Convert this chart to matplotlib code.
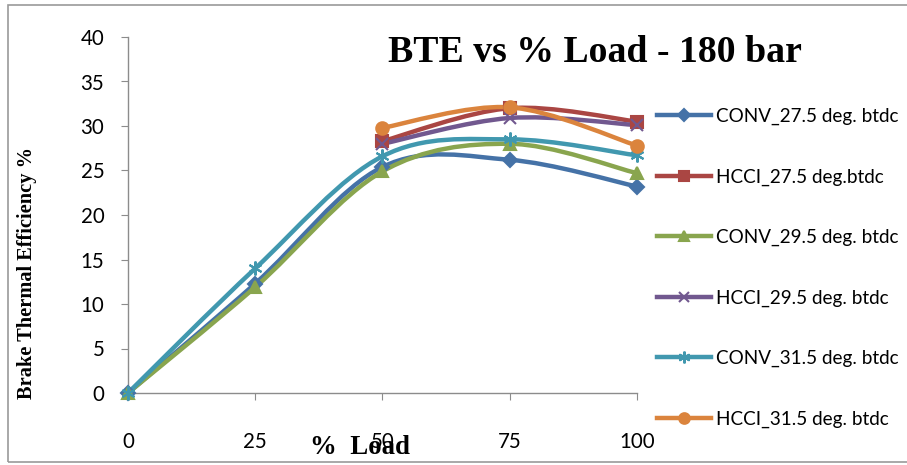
"""BTE vs % Load at 180 bar: CONV and HCCI runs at three injection timings."""
import numpy as np
import matplotlib.pyplot as plt
from matplotlib.patches import Rectangle
from matplotlib.path import Path
from matplotlib.patches import PathPatch

LOADS = ["0", "25", "50", "75", "100"]
NAN = np.nan

CONV_275 = [0.0, 12.3, 25.4, 26.2, 23.2]
HCCI_275 = [NAN, NAN, 28.3, 32.0, 30.5]
CONV_295 = [0.0, 11.9, 24.9, 28.0, 24.7]
HCCI_295 = [NAN, NAN, 28.0, 30.9, 30.1]
CONV_315 = [0.0, 14.0, 26.6, 28.5, 26.7]
HCCI_315 = [NAN, NAN, 29.8, 32.1, 27.8]

SERIES = [
    ("CONV_27.5 deg. btdc", CONV_275, "#4572A7", "D", 7),
    ("HCCI_27.5 deg.btdc", HCCI_275, "#AA4643", "s", 8),
    ("CONV_29.5 deg. btdc", CONV_295, "#89A54E", "^", 8),
    ("HCCI_29.5 deg. btdc", HCCI_295, "#71588F", "x", 8),
    ("CONV_31.5 deg. btdc", CONV_315, "#4198AF", (6, 2, 0), 10),
    ("HCCI_31.5 deg. btdc", HCCI_315, "#DB843D", "o", 9),
]

TICK_FONT = "Lato"
SERIF = "Liberation Serif"


def smooth_path(xs, ys):
    """Excel-style smoothed line: Catmull-Rom segments as cubic Beziers."""
    pts = np.column_stack([xs, ys])
    n = len(pts)
    verts = [pts[0]]
    codes = [Path.MOVETO]
    for i in range(n - 1):
        p0 = pts[max(i - 1, 0)]
        p1 = pts[i]
        p2 = pts[i + 1]
        p3 = pts[min(i + 2, n - 1)]
        c1 = p1 + (p2 - p0) / 6.0
        c2 = p2 - (p3 - p1) / 6.0
        verts += [c1, c2, p2]
        codes += [Path.CURVE4] * 3
    return Path(verts, codes)


fig = plt.figure(figsize=(9.07, 4.65), dpi=100)
fig.patches.append(Rectangle((8 / 907, 3 / 465), 1.0, 457 / 465, transform=fig.transFigure,
                             fill=False, edgecolor="#9a9a9a", linewidth=1.2))

ax = fig.add_axes([128 / 907, 72 / 465, 509 / 907, 356 / 465])
x = np.arange(len(LOADS))

for label, vals, colour, marker, ms in SERIES:
    v = np.array(vals, dtype=float)
    ok = ~np.isnan(v)
    ax.add_patch(PathPatch(smooth_path(x[ok], v[ok]), facecolor="none",
                           edgecolor=colour, linewidth=3.2, zorder=2))
    ax.plot(x[ok], v[ok], linestyle="none", marker=marker, markersize=ms,
            color=colour, markeredgecolor=colour, markeredgewidth=1.5, zorder=3)
    ax.plot([], [], color=colour, linewidth=3.2, marker=marker, markersize=ms * 0.85,
            markeredgewidth=1.5, label=label)

ax.set_xlim(0, len(LOADS) - 1)
ax.set_ylim(0, 40)
ax.set_xticks(x)
ax.set_xticklabels(LOADS)
ax.set_yticks(np.arange(0, 41, 5))
for side in ("top", "right"):
    ax.spines[side].set_visible(False)
for side in ("left", "bottom"):
    ax.spines[side].set_color("#8c8c8c")
    ax.spines[side].set_linewidth(1.0)
ax.spines["bottom"].set_zorder(1)
ax.tick_params(axis="both", direction="out", length=5, color="#8c8c8c",
               labelsize=14.8)
ax.tick_params(axis="x", pad=23)
ax.tick_params(axis="y", pad=12)
for t in ax.get_xticklabels() + ax.get_yticklabels():
    t.set_fontfamily(TICK_FONT)
for art in ax.patches + ax.lines:
    art.set_clip_on(False)

fig.text(595 / 907, 1 - 52 / 465, "BTE vs % Load - 180 bar", family=SERIF,
         fontweight="bold", fontsize=27.2, ha="center", va="center")
fig.text(27 / 907, 1 - 273 / 465, "Brake Thermal Efficiency %", family=SERIF,
         fontweight="bold", fontsize=14.7, rotation=90, ha="center", va="center")
fig.text(360 / 907, 1 - 447 / 465, "%  Load", family=SERIF,
         fontweight="bold", fontsize=19.3, ha="center", va="center")

fig.legend(loc="upper left", bbox_to_anchor=(657 / 907, 1 - 108 / 465),
           frameon=False, prop={"family": TICK_FONT, "size": 13.6},
           handlelength=2.85, handletextpad=0.27, labelspacing=2.29,
           borderaxespad=0, borderpad=0)

fig.savefig("out.png", dpi=100)
